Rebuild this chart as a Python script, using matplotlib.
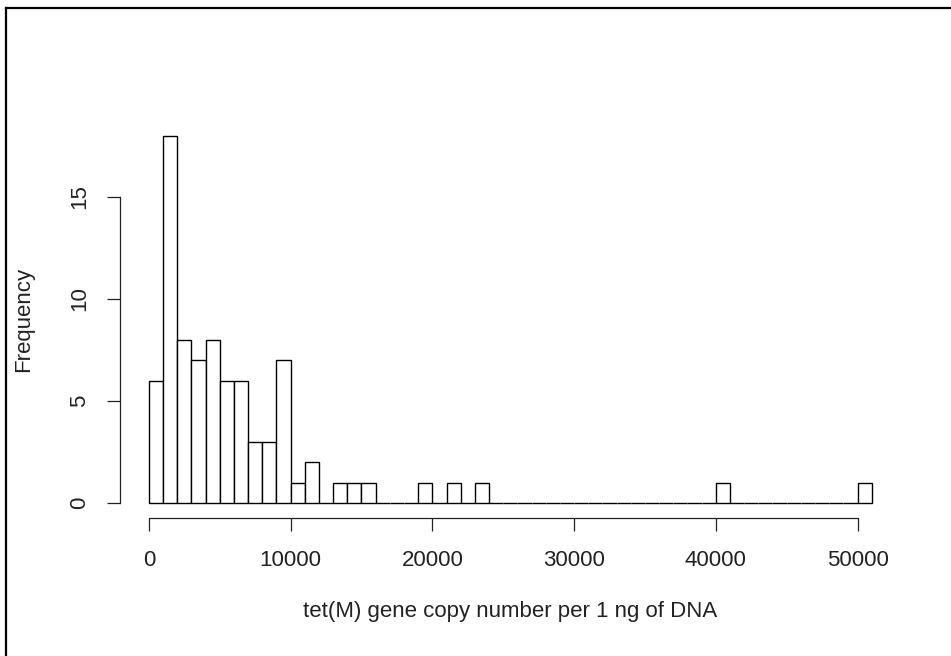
import matplotlib
matplotlib.use("Agg")
import matplotlib.pyplot as plt
from matplotlib.lines import Line2D

plt.rcParams['font.family'] = ['Liberation Sans', 'DejaVu Sans']

# histogram bins (width 1000) and their counts
bin_width = 1000
bin_starts = list(range(0, 51000, 1000))
counts = [6, 18, 8, 7, 8, 6, 6, 3, 3, 7,
          1, 2, 0, 1, 1, 1, 0, 0, 0, 1,
          0, 1, 0, 1, 0, 0, 0, 0, 0, 0,
          0, 0, 0, 0, 0, 0, 0, 0, 0, 0,
          1, 0, 0, 0, 0, 0, 0, 0, 0, 0,
          1]
x_ticks = [0, 10000, 20000, 30000, 40000, 50000]
y_ticks = [0, 5, 10, 15]
x_label = "tet(M) gene copy number per 1 ng of DNA"
y_label = "Frequency"

W, H = 951, 656
fig = plt.figure(figsize=(W / 100, H / 100), dpi=100)

# plot region in pixels (R style, 4% padding on the data range)
left, right, top, bottom = 120, 900.6, 121.1, 517.7
ax = fig.add_axes([left / W, 1 - bottom / H, (right - left) / W, (bottom - top) / H])

ax.bar(bin_starts, counts, width=bin_width, align='edge',
       facecolor='white', edgecolor='black', linewidth=1.0)

ax.set_xlim(-2040, 53040)
ax.set_ylim(-0.72, 18.72)

for s in ['top', 'right']:
    ax.spines[s].set_visible(False)
ax.spines['left'].set_bounds(0, 15)
ax.spines['bottom'].set_bounds(0, 50000)
for s in ['left', 'bottom']:
    ax.spines[s].set_linewidth(0.9)
    ax.spines[s].set_color('#222222')

ax.set_xticks(x_ticks)
ax.set_xticklabels([str(t) for t in x_ticks])
ax.set_yticks(y_ticks)
ax.set_yticklabels([str(t) for t in y_ticks], rotation=90, va='center')
ax.tick_params(axis='both', direction='out', length=9.4, width=0.9,
               color='#222222', labelsize=16, labelcolor='#222222')
ax.tick_params(axis='x', pad=14)
ax.tick_params(axis='y', pad=12)

fig.text(510 / W, 1 - 612 / H, x_label, ha='center', va='center',
         fontsize=16, color='#222222')
fig.text(24 / W, 1 - 319 / H, y_label, ha='center', va='center',
         rotation=90, fontsize=16, color='#222222')

# frame around the picture (top and left edges)
fig.add_artist(Line2D([6 / W, 1], [1 - 7.7 / H, 1 - 7.7 / H],
                      transform=fig.transFigure, color='black', linewidth=1.6))
fig.add_artist(Line2D([6.2 / W, 6.2 / W], [0, 1 - 7.7 / H],
                      transform=fig.transFigure, color='black', linewidth=1.6))

fig.savefig("out.png", dpi=100, facecolor='white')
